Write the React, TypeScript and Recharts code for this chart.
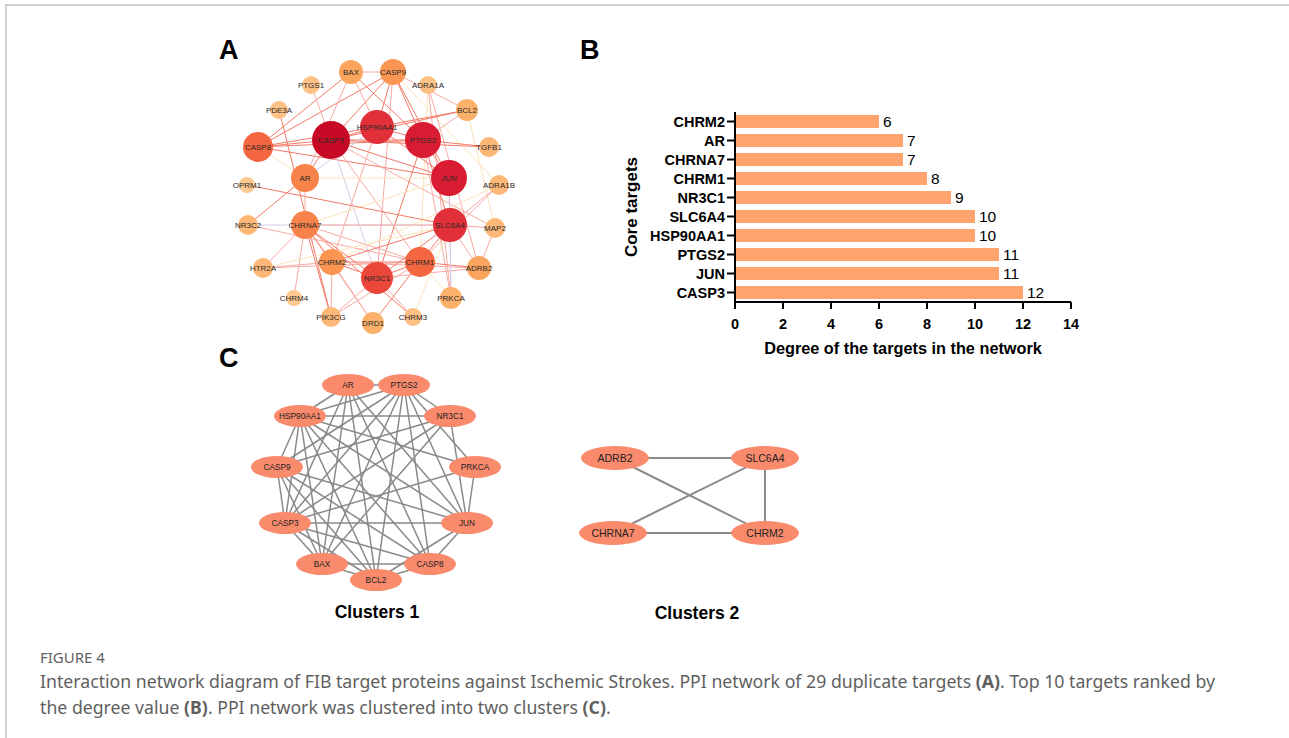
import { BarChart, Bar, XAxis, YAxis, LabelList, ScatterChart, Scatter, ReferenceLine } from "recharts";

const FONT = "'Liberation Sans', Arial, sans-serif";

// ---- panel B: top 10 targets by degree
const coreTargets = ["CHRM2", "AR", "CHRNA7", "CHRM1", "NR3C1", "SLC6A4", "HSP90AA1", "PTGS2", "JUN", "CASP3"];
const coreDegrees = [6, 7, 7, 8, 9, 10, 10, 11, 11, 12];
const degreeTicks = [0, 2, 4, 6, 8, 10, 12, 14];

// ---- panel A: PPI network of 29 targets (layout position + degree)
const ppiNames = ["BAX", "CASP9", "PTGS1", "ADRA1A", "PDE3A", "BCL2", "HSP90AA1", "CASP3", "PTGS2", "CASP8", "TGFB1", "AR", "JUN", "OPRM1", "ADRA1B", "NR3C2", "CHRNA7", "SLC6A4", "MAP2", "HTR2A", "CHRM2", "CHRM1", "ADRB2", "NR3C1", "CHRM4", "PRKCA", "PIK3CG", "DRD1", "CHRM3"];
const ppiLayoutX = [131, 173, 91, 208, 59, 247, 157, 111, 203, 38, 269, 85, 229, 27, 279, 28, 85, 230, 275, 43, 112, 200, 259, 157, 74, 231, 111, 153, 193];
const ppiLayoutY = [27, 27, 40, 40, 65, 65, 82, 95, 95, 102, 102, 133, 133, 140, 140, 180, 180, 180, 183, 223, 217, 217, 223, 233, 253, 253, 272, 278, 272];
const ppiDegree = [5, 6, 2, 2, 2, 4, 10, 12, 11, 8, 3, 7, 11, 1, 3, 3, 7, 10, 3, 3, 6, 8, 5, 9, 1, 4, 3, 4, 2];

// edges: [from, to, tone]  tone 0 red, 1 pink, 2 pale yellow, 3 lavender
const ppiEdges: [string, string, number][] = [
  ["CASP8", "CASP3", 0], ["CASP8", "HSP90AA1", 0], ["CASP8", "PTGS2", 0], ["CASP8", "JUN", 0], ["CASP8", "BAX", 0], ["CASP8", "CASP9", 0], ["CASP8", "AR", 2],
  ["BAX", "CASP9", 1], ["BAX", "AR", 1], ["BAX", "PTGS2", 0], ["BAX", "HSP90AA1", 1],
  ["CASP9", "HSP90AA1", 0], ["CASP9", "PTGS2", 0], ["CASP9", "JUN", 0], ["CASP9", "CASP3", 0], ["CASP9", "BCL2", 1], ["CASP9", "NR3C1", 1], ["CASP9", "ADRA1B", 2],
  ["PTGS1", "CASP3", 1], ["PDE3A", "PIK3CG", 0],
  ["ADRA1A", "PRKCA", 1], ["ADRA1A", "ADRB2", 1], ["ADRA1A", "CHRM1", 2],
  ["BCL2", "HSP90AA1", 0], ["BCL2", "CASP3", 0], ["BCL2", "PTGS2", 1], ["BCL2", "MAP2", 2],
  ["CASP3", "HSP90AA1", 0], ["CASP3", "PTGS2", 0], ["CASP3", "JUN", 0], ["CASP3", "AR", 0], ["CASP3", "TGFB1", 0], ["CASP3", "NR3C1", 3], ["CASP3", "CHRM1", 1], ["CASP3", "MAP2", 1],
  ["HSP90AA1", "PTGS2", 0], ["HSP90AA1", "JUN", 0], ["HSP90AA1", "AR", 3], ["HSP90AA1", "CHRM2", 1],
  ["PTGS2", "JUN", 0], ["PTGS2", "TGFB1", 0], ["PTGS2", "NR3C1", 0], ["PTGS2", "PRKCA", 1], ["PTGS2", "SLC6A4", 0],
  ["JUN", "AR", 2], ["JUN", "SLC6A4", 0], ["JUN", "PRKCA", 3], ["JUN", "CHRNA7", 2],
  ["OPRM1", "SLC6A4", 0], ["AR", "NR3C2", 0], ["AR", "CHRNA7", 1],
  ["ADRA1B", "SLC6A4", 1], ["ADRA1B", "CHRM1", 1], ["ADRA1B", "CHRM2", 2],
  ["MAP2", "SLC6A4", 1], ["MAP2", "ADRB2", 1], ["NR3C2", "SLC6A4", 3], ["NR3C2", "CHRM1", 1],
  ["CHRNA7", "CHRM2", 0], ["CHRNA7", "NR3C1", 0], ["CHRNA7", "CHRM1", 1], ["CHRNA7", "SLC6A4", 1], ["CHRNA7", "PIK3CG", 0], ["CHRNA7", "DRD1", 1], ["CHRNA7", "CHRM3", 0], ["CHRNA7", "HTR2A", 1], ["CHRNA7", "CHRM4", 1],
  ["HTR2A", "CHRM2", 1], ["HTR2A", "SLC6A4", 2], ["HTR2A", "CHRM1", 1],
  ["CHRM2", "NR3C1", 0], ["CHRM2", "CHRM1", 0], ["CHRM2", "SLC6A4", 0], ["CHRM2", "PIK3CG", 1], ["CHRM2", "DRD1", 1], ["CHRM2", "ADRB2", 1],
  ["CHRM1", "NR3C1", 0], ["CHRM1", "SLC6A4", 0], ["CHRM1", "ADRB2", 0], ["CHRM1", "DRD1", 0], ["CHRM1", "PIK3CG", 1], ["CHRM1", "PRKCA", 2],
  ["NR3C1", "SLC6A4", 0], ["NR3C1", "CHRM3", 1], ["NR3C1", "PIK3CG", 1], ["NR3C1", "ADRB2", 1],
  ["SLC6A4", "PRKCA", 3], ["SLC6A4", "ADRB2", 1], ["SLC6A4", "CHRM3", 2],
];

// ---- panel C: two clusters
const clusterNames = ["AR", "PTGS2", "HSP90AA1", "NR3C1", "CASP9", "PRKCA", "CASP3", "JUN", "BAX", "CASP8", "BCL2", "ADRB2", "SLC6A4", "CHRNA7", "CHRM2"];
const clusterLayoutX = [128, 184, 80, 230, 57, 255, 65, 247, 102, 210, 156, 395, 545, 393, 545];
const clusterLayoutY = [25, 25, 56, 56, 107, 107, 163, 163, 204, 204, 220, 98, 98, 173, 173];
const clusterId = [1, 1, 1, 1, 1, 1, 1, 1, 1, 1, 1, 2, 2, 2, 2];
const clusterEdges: [string, string][] = [
  ["AR", "PTGS2"], ["AR", "HSP90AA1"], ["AR", "CASP3"], ["AR", "BAX"], ["AR", "CASP8"], ["AR", "JUN"], ["AR", "BCL2"],
  ["PTGS2", "NR3C1"], ["PTGS2", "HSP90AA1"], ["PTGS2", "CASP9"], ["PTGS2", "CASP3"], ["PTGS2", "BAX"], ["PTGS2", "BCL2"], ["PTGS2", "CASP8"], ["PTGS2", "JUN"], ["PTGS2", "PRKCA"],
  ["HSP90AA1", "NR3C1"], ["HSP90AA1", "CASP9"], ["HSP90AA1", "CASP3"], ["HSP90AA1", "BAX"], ["HSP90AA1", "BCL2"], ["HSP90AA1", "CASP8"], ["HSP90AA1", "JUN"], ["HSP90AA1", "PRKCA"],
  ["NR3C1", "CASP3"], ["NR3C1", "CASP9"], ["NR3C1", "BAX"], ["NR3C1", "JUN"],
  ["CASP9", "CASP3"], ["CASP9", "BAX"], ["CASP9", "BCL2"], ["CASP9", "CASP8"], ["CASP9", "JUN"],
  ["CASP3", "BAX"], ["CASP3", "BCL2"], ["CASP3", "CASP8"], ["CASP3", "JUN"], ["CASP3", "PRKCA"],
  ["BAX", "BCL2"], ["BAX", "CASP8"], ["BCL2", "CASP8"], ["BCL2", "JUN"], ["CASP8", "JUN"], ["JUN", "PRKCA"],
  ["ADRB2", "SLC6A4"], ["ADRB2", "CHRM2"], ["CHRNA7", "SLC6A4"], ["CHRNA7", "CHRM2"], ["SLC6A4", "CHRM2"],
];

const barData = coreTargets.map((name, i) => ({ name, degree: coreDegrees[i] }));
const ppiNodes = ppiNames.map((name, i) => ({ name, x: ppiLayoutX[i], y: ppiLayoutY[i], degree: ppiDegree[i] }));
const clusterNodes = clusterNames.map((name, i) => ({ name, x: clusterLayoutX[i], y: clusterLayoutY[i], cluster: clusterId[i] }));

const degreeColors = ["#fec891", "#fec891", "#fdc085", "#fdb877", "#fcb16b", "#fba45e", "#fa9552", "#f8834a", "#f4663f", "#ea463a", "#e2303a", "#d91c31", "#c60a26"];
const toneColors = ["#f47a68", "#f8aaa5", "#fbe4bb", "#d8cce6"];

const findNode = <T extends { name: string }>(list: T[], name: string) => list.find((n) => n.name === name)!;

function PpiNode(props: any) {
  const { cx, cy, payload } = props;
  const r = 7 + Math.min(payload.degree, 12);
  return (
    <g>
      <circle cx={cx} cy={cy} r={r} fill={degreeColors[payload.degree]} />
      <text x={cx} y={cy} dy="0.35em" textAnchor="middle" fontSize={8} fill="#2a2a2a" fontFamily={FONT}>
        {payload.name}
      </text>
    </g>
  );
}

function ClusterNode(props: any) {
  const { cx, cy, payload } = props;
  const big = payload.cluster === 2;
  return (
    <g>
      <ellipse cx={cx} cy={cy} rx={big ? 34 : 26} ry={big ? 12 : 11} fill="#fa8a6c" />
      <text x={cx} y={cy} dy="0.35em" textAnchor="middle" fontSize={big ? 10.5 : 8.3} fill="#222" fontFamily={FONT}>
        {payload.name}
      </text>
    </g>
  );
}

const hiddenNode = () => <g />;

const panelLetter = (left: number, top: number): React.CSSProperties => ({
  position: "absolute", left, top, fontFamily: FONT, fontWeight: 700, fontSize: 27, lineHeight: "27px", color: "#000",
});

const layer: React.CSSProperties = { position: "absolute", left: 0, top: 0 };

export default function App() {
  return (
    <div style={{ position: "absolute", left: 0, top: 0, width: 1289, height: 738, background: "#fff", overflow: "hidden" }}>
      <div style={{ position: "absolute", left: 5, top: 4, width: 1300, height: 760, borderTop: "2px solid #d0d0d0", borderLeft: "2px solid #d0d0d0" }} />

      <div style={panelLetter(219, 37)}>A</div>
      <div style={panelLetter(580, 37)}>B</div>
      <div style={panelLetter(219, 345)}>C</div>

      {/* A: PPI network, edges below, nodes on top */}
      <div style={{ position: "absolute", left: 220, top: 45, width: 300, height: 300 }}>
        <div style={layer}>
          <ScatterChart width={300} height={300} margin={{ top: 0, right: 0, bottom: 0, left: 0 }}>
            <XAxis type="number" dataKey="x" domain={[0, 300]} hide />
            <YAxis type="number" dataKey="y" domain={[0, 300]} reversed hide />
            <Scatter data={ppiNodes} shape={hiddenNode} isAnimationActive={false} />
            {ppiEdges.map(([a, b, tone], i) => {
              const s = findNode(ppiNodes, a);
              const t = findNode(ppiNodes, b);
              return (
                <ReferenceLine key={i} segment={[{ x: s.x, y: s.y }, { x: t.x, y: t.y }]} stroke={toneColors[tone]} strokeWidth={1} ifOverflow="visible" />
              );
            })}
          </ScatterChart>
        </div>
        <div style={layer}>
          <ScatterChart width={300} height={300} margin={{ top: 0, right: 0, bottom: 0, left: 0 }}>
            <XAxis type="number" dataKey="x" domain={[0, 300]} hide />
            <YAxis type="number" dataKey="y" domain={[0, 300]} reversed hide />
            <Scatter data={ppiNodes} shape={PpiNode} isAnimationActive={false} />
          </ScatterChart>
        </div>
      </div>

      {/* B: degree bar chart */}
      <div style={{ position: "absolute", left: 632, top: 207, transform: "translate(-50%, -50%) rotate(-90deg)", fontFamily: FONT, fontWeight: 700, fontSize: 17, whiteSpace: "nowrap", color: "#000" }}>
        Core targets
      </div>
      <div style={{ position: "absolute", left: 580, top: 100 }}>
        <BarChart layout="vertical" width={520} height={262} data={barData} margin={{ top: 12, right: 29, bottom: 0, left: 0 }} barSize={13}>
          <XAxis
            type="number"
            domain={[0, 14]}
            ticks={degreeTicks}
            height={60}
            axisLine={{ stroke: "#000", strokeWidth: 2 }}
            tickLine={{ stroke: "#000", strokeWidth: 2 }}
            tickSize={7}
            tickMargin={10}
            tick={{ fontSize: 14.5, fontWeight: 700, fill: "#000", fontFamily: FONT }}
            label={{ value: "Degree of the targets in the network", position: "insideBottom", offset: 8, fontSize: 16.3, fontWeight: 700, fill: "#000", fontFamily: FONT }}
          />
          <YAxis
            type="category"
            dataKey="name"
            width={155}
            axisLine={{ stroke: "#000", strokeWidth: 2 }}
            tickLine={{ stroke: "#000", strokeWidth: 2 }}
            tickSize={8}
            tickMargin={2}
            tick={{ fontSize: 14.5, fontWeight: 700, fill: "#000", fontFamily: FONT }}
            interval={0}
          />
          <Bar dataKey="degree" fill="#ffa36f" isAnimationActive={false}>
            <LabelList dataKey="degree" position="right" offset={4} fontSize={15.5} fill="#000" fontFamily={FONT} />
          </Bar>
        </BarChart>
      </div>

      {/* C: clusters, edges below, nodes on top */}
      <div style={{ position: "absolute", left: 220, top: 360, width: 600, height: 240 }}>
        <div style={layer}>
          <ScatterChart width={600} height={240} margin={{ top: 0, right: 0, bottom: 0, left: 0 }}>
            <XAxis type="number" dataKey="x" domain={[0, 600]} hide />
            <YAxis type="number" dataKey="y" domain={[0, 240]} reversed hide />
            <Scatter data={clusterNodes} shape={hiddenNode} isAnimationActive={false} />
            {clusterEdges.map(([a, b], i) => {
              const s = findNode(clusterNodes, a);
              const t = findNode(clusterNodes, b);
              return (
                <ReferenceLine key={i} segment={[{ x: s.x, y: s.y }, { x: t.x, y: t.y }]} stroke="#8a8a8a" strokeWidth={s.cluster === 2 ? 2 : 1.5} ifOverflow="visible" />
              );
            })}
          </ScatterChart>
        </div>
        <div style={layer}>
          <ScatterChart width={600} height={240} margin={{ top: 0, right: 0, bottom: 0, left: 0 }}>
            <XAxis type="number" dataKey="x" domain={[0, 600]} hide />
            <YAxis type="number" dataKey="y" domain={[0, 240]} reversed hide />
            <Scatter data={clusterNodes} shape={ClusterNode} isAnimationActive={false} />
          </ScatterChart>
        </div>
      </div>
      <div style={{ position: "absolute", left: 377, top: 612, transform: "translate(-50%, -50%)", fontFamily: FONT, fontWeight: 700, fontSize: 17.5, whiteSpace: "nowrap" }}>Clusters 1</div>
      <div style={{ position: "absolute", left: 697, top: 613, transform: "translate(-50%, -50%)", fontFamily: FONT, fontWeight: 700, fontSize: 17.5, whiteSpace: "nowrap" }}>Clusters 2</div>

      {/* caption */}
      <div style={{ position: "absolute", left: 40, top: 646, width: 1240, fontFamily: "'Noto Sans', sans-serif", color: "#5f5f5f", whiteSpace: "nowrap" }}>
        <div style={{ fontSize: 15, lineHeight: "22px" }}>FIGURE 4</div>
        <div style={{ fontSize: 17.7, lineHeight: "26px" }}>
          Interaction network diagram of FIB target proteins against Ischemic Strokes. PPI network of 29 duplicate targets <b>(A)</b>. Top 10 targets ranked by
          <br />
          the degree value <b>(B)</b>. PPI network was clustered into two clusters <b>(C)</b>.
        </div>
      </div>
    </div>
  );
}
